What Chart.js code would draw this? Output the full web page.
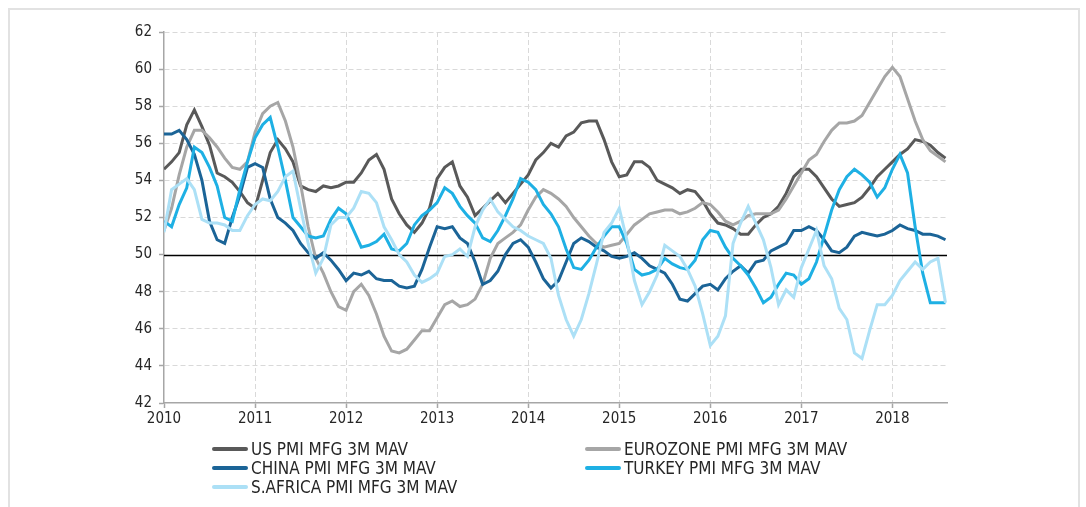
<!DOCTYPE html>
<html>
<head>
<meta charset="utf-8">
<script src="https://cdn.jsdelivr.net/npm/chart.js@4.4.1/dist/chart.umd.min.js"></script>
<style>
  html, body { margin: 0; padding: 0; background: #ffffff; }
  #wrap { position: relative; width: 1086px; height: 507px; overflow: hidden; }
  #frame { position: absolute; left: 8px; top: 8px; width: 1072px; height: 520px;
           border: 2px solid #e2e2e2; box-sizing: border-box; }
  canvas { position: absolute; left: 0; top: 0; }
  .leg { position: absolute; font-family: 'DejaVu Sans Condensed', 'DejaVu Sans', sans-serif;
         font-size: 17px; color: #262626; white-space: nowrap; line-height: 20px; height: 20px; }
  .leg .sw { position: absolute; left: 0; top: 8px; width: 36px; height: 4px; border-radius: 2px; }
  .leg .tx { position: absolute; left: 39px; top: 0; }
</style>
</head>
<body>
<div id="wrap">
  <div id="frame"></div>
  <canvas id="c" width="1086" height="507"></canvas>
  <div id="legend"></div>
</div>
<script>
// ---- data (monthly, Jan 2010 .. Aug 2018) ----
const startYear = 2010;
const seriesNames = ['US PMI MFG 3M MAV', 'EUROZONE PMI MFG 3M MAV', 'CHINA PMI MFG 3M MAV', 'TURKEY PMI MFG 3M MAV', 'S.AFRICA PMI MFG 3M MAV'];
const xTickYears = [2010, 2011, 2012, 2013, 2014, 2015, 2016, 2017, 2018];
const yTicks = [42, 44, 46, 48, 50, 52, 54, 56, 58, 60, 62];

const usPMI = [54.6,55.0,55.5,57.0,57.8,56.9,55.9,54.4,54.2,53.9,53.4,52.8,
  52.5,54.0,55.5,56.2,55.7,55.0,53.7,53.5,53.4,53.7,53.6,53.7,
  53.9,53.9,54.4,55.1,55.4,54.6,53.0,52.2,51.6,51.2,51.7,52.5,
  54.1,54.7,55.0,53.7,53.1,52.1,52.5,52.9,53.3,52.8,53.3,53.8,
  54.3,55.1,55.5,56.0,55.8,56.4,56.6,57.1,57.2,57.2,56.2,55.0,
  54.2,54.3,55.0,55.0,54.7,54.0,53.8,53.6,53.3,53.5,53.4,52.9,
  52.2,51.7,51.6,51.4,51.1,51.1,51.6,52.0,52.2,52.6,53.3,54.2,
  54.6,54.6,54.2,53.6,53.0,52.6,52.7,52.8,53.1,53.6,54.2,54.6,
  55.0,55.4,55.7,56.2,56.1,55.9,55.5,55.2];

const eurozonePMI = [51.3,52.5,54.3,55.8,56.7,56.7,56.3,55.8,55.2,54.7,54.6,55.0,
  56.6,57.6,58.0,58.2,57.2,55.8,53.8,51.5,49.8,49.0,48.0,47.2,
  47.0,48.0,48.4,47.8,46.8,45.6,44.8,44.7,44.9,45.4,45.9,45.9,
  46.6,47.3,47.5,47.2,47.3,47.6,48.4,49.8,50.6,50.9,51.2,51.6,
  52.4,53.1,53.5,53.3,53.0,52.6,52.0,51.5,51.0,50.6,50.4,50.5,
  50.6,51.1,51.6,51.9,52.2,52.3,52.4,52.4,52.2,52.3,52.5,52.8,
  52.7,52.3,51.8,51.6,51.8,52.1,52.2,52.2,52.2,52.4,53.0,53.7,
  54.4,55.1,55.4,56.1,56.7,57.1,57.1,57.2,57.5,58.2,58.9,59.6,
  60.1,59.6,58.4,57.2,56.2,55.6,55.3,55.0];

const chinaPMI = [56.5,56.5,56.7,56.2,55.4,54.0,51.8,50.8,50.6,52.0,53.2,54.7,
  54.9,54.7,53.0,52.0,51.7,51.3,50.6,50.1,49.8,50.1,49.7,49.2,
  48.6,49.0,48.9,49.1,48.7,48.6,48.6,48.3,48.2,48.3,49.2,50.4,
  51.5,51.4,51.5,50.9,50.6,49.6,48.4,48.6,49.1,50.0,50.6,50.8,
  50.4,49.6,48.7,48.2,48.6,49.6,50.6,50.9,50.7,50.4,50.2,49.9,
  49.8,49.9,50.1,49.8,49.4,49.2,49.0,48.4,47.6,47.5,47.9,48.3,
  48.4,48.1,48.7,49.1,49.4,49.0,49.6,49.7,50.2,50.4,50.6,51.3,
  51.3,51.5,51.3,50.8,50.2,50.1,50.4,51.0,51.2,51.1,51.0,51.1,
  51.3,51.6,51.4,51.3,51.1,51.1,51.0,50.8];

const turkeyPMI = [51.8,51.5,52.7,53.6,55.8,55.5,54.7,53.7,52.0,51.8,53.5,55.0,
  56.3,57.0,57.4,55.8,54.0,52.0,51.5,51.0,50.9,51.0,51.9,52.5,
  52.2,51.3,50.4,50.5,50.7,51.1,50.3,50.2,50.6,51.6,52.1,52.4,
  52.8,53.6,53.3,52.6,52.1,51.7,50.9,50.7,51.3,52.1,53.0,54.1,
  53.9,53.5,52.7,52.2,51.5,50.3,49.3,49.2,49.7,50.4,51.0,51.5,
  51.5,50.6,49.2,48.9,49.0,49.2,49.8,49.5,49.3,49.2,49.7,50.8,
  51.3,51.2,50.4,49.8,49.4,48.9,48.2,47.4,47.7,48.4,49.0,48.9,
  48.4,48.7,49.6,51.0,52.4,53.5,54.2,54.6,54.3,53.9,53.1,53.6,
  54.6,55.4,54.4,51.5,49.0,47.4,47.4,47.4];

const southAfricaPMI = [51.2,53.5,53.8,54.1,53.5,51.9,51.7,51.7,51.6,51.3,51.3,52.1,
  52.7,53.0,52.9,53.4,54.2,54.5,52.5,50.6,49.0,49.8,51.6,52.0,
  52.0,52.5,53.4,53.3,52.8,51.5,50.8,50.0,49.6,48.9,48.5,48.7,
  49.0,49.9,50.0,50.3,49.9,51.5,52.4,53.0,52.3,51.9,51.5,51.3,
  51.0,50.8,50.6,49.8,47.8,46.5,45.6,46.5,47.9,49.5,51.2,51.7,
  52.5,50.8,48.6,47.3,48.0,48.9,50.5,50.2,49.9,49.2,48.3,46.8,
  45.1,45.6,46.7,50.6,51.7,52.6,51.7,50.8,49.3,47.3,48.1,47.7,
  49.3,50.3,51.3,49.4,48.7,47.1,46.5,44.7,44.4,45.9,47.3,47.3,
  47.8,48.6,49.1,49.6,49.2,49.6,49.8,47.4];

const seriesValues = [usPMI, eurozonePMI, chinaPMI, turkeyPMI, southAfricaPMI];
const seriesColors = ['#595959', '#a6a6a6', '#1b6497', '#1eb0e4', '#ace0f6'];

// ---- chart ----
const FONT = "'DejaVu Sans Condensed', 'DejaVu Sans', sans-serif";
const toPoints = arr => arr.map((v, i) => ({ x: startYear + i / 12, y: v }));

const datasets = seriesValues.map((vals, k) => ({
  label: seriesNames[k],
  data: toPoints(vals),
  borderColor: seriesColors[k],
  backgroundColor: seriesColors[k],
  borderWidth: 3,
  pointRadius: 0,
  tension: 0,
  fill: false,
  order: 5 - k
}));

const refLine = {
  id: 'refLine',
  beforeDatasetsDraw(chart) {
    const { ctx, chartArea, scales } = chart;
    const y = Math.round(scales.y.getPixelForValue(50)) + 0.5;
    ctx.save();
    ctx.strokeStyle = '#000000';
    ctx.lineWidth = 1.3;
    ctx.beginPath();
    ctx.moveTo(chartArea.left, y);
    ctx.lineTo(chartArea.right, y);
    ctx.stroke();
    ctx.restore();
  }
};

new Chart(document.getElementById('c'), {
  type: 'line',
  data: { datasets },
  plugins: [refLine],
  options: {
    responsive: false,
    animation: false,
    layout: { padding: { left: 0, right: 139, top: 32, bottom: 0 } },
    plugins: { legend: { display: false }, tooltip: { enabled: false } },
    scales: {
      x: {
        type: 'linear',
        min: 2010,
        max: 2018.6,
        afterBuildTicks: s => { s.ticks = xTickYears.map(v => ({ value: v })); },
        afterFit: s => { s.height = 104; },
        ticks: {
          callback: v => String(v),
          font: { family: FONT, size: 15 },
          color: '#262626',
          padding: 2,
          maxRotation: 0,
          autoSkip: false
        },
        grid: {
          color: c => (c.tick && c.tick.value === 2010) ? 'rgba(0,0,0,0)' : '#d9d9d9',
          lineWidth: 1,
          tickLength: 5,
          tickColor: '#a6a6a6',
          tickWidth: 1.5,
          tickBorderDash: [],
        },
        border: { display: true, color: '#a6a6a6', width: 1.5, dash: [5, 3] }
      },
      y: {
        type: 'linear',
        min: 42,
        max: 62,
        afterBuildTicks: s => { s.ticks = yTicks.map(v => ({ value: v })); },
        afterFit: s => { s.width = 164; },
        ticks: {
          callback: v => String(v),
          font: { family: FONT, size: 15 },
          color: '#262626',
          padding: 7
        },
        grid: {
          color: c => (c.tick && (c.tick.value === 50 || c.tick.value === 42)) ? 'rgba(0,0,0,0)' : '#d9d9d9',
          lineWidth: 1,
          tickLength: 5,
          tickColor: '#a6a6a6',
          tickWidth: 1.5,
          tickBorderDash: []
        },
        border: { display: true, color: '#a6a6a6', width: 1.5, dash: [5, 3] }
      }
    }
  }
});

// ---- HTML legend (two columns) ----
const legendPos = [
  { x: 212, y: 439 }, { x: 585, y: 439 },
  { x: 212, y: 458 }, { x: 585, y: 458 },
  { x: 212, y: 477 }
];
const legendEl = document.getElementById('legend');
seriesNames.forEach((name, k) => {
  const d = document.createElement('div');
  d.className = 'leg';
  d.style.left = legendPos[k].x + 'px';
  d.style.top = legendPos[k].y + 'px';
  d.innerHTML = '<span class="sw" style="background:' + seriesColors[k] + '"></span><span class="tx"></span>';
  d.querySelector('.tx').textContent = name;
  legendEl.appendChild(d);
});
</script>
</body>
</html>
